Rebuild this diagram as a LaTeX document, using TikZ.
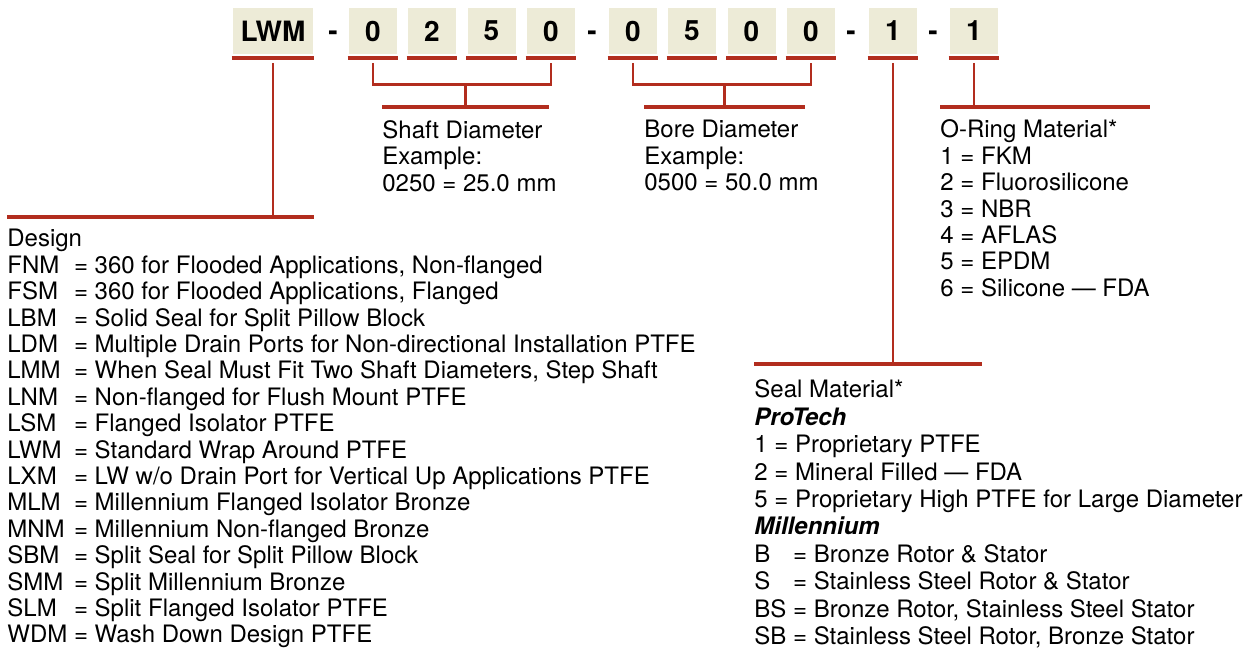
\documentclass[tikz,border=0pt]{standalone}
\usepackage{fontspec}
\setmainfont{TeX Gyre Heros}
\usepackage{calc}
\usetikzlibrary{calc}
\definecolor{codered}{RGB}{178,45,30}
\definecolor{codebg}{RGB}{237,235,215}
\newcommand{\dcode}[1]{\makebox[\widthof{WDM}][l]{#1}}
\newcommand{\mcode}[1]{\makebox[\widthof{BS}][l]{#1}}
\newcommand{\grp}[1]{\textbf{\textit{#1}}}

\begin{document}
\begin{tikzpicture}[x=0.5pt, y=-0.5pt,
      digit/.style={fill=codebg, minimum width=24pt, minimum height=23pt,
                    inner sep=0pt, font=\fontsize{14}{16}\selectfont\bfseries},
      sep/.style={inner sep=0pt, anchor=base,
                  font=\fontsize{14}{16}\selectfont\bfseries},
      uline/.style={draw=codered, line width=2pt},
      link/.style={draw=codered, line width=1.35pt},
      bar/.style={draw=codered, line width=2.2pt},
      txt/.style={anchor=north west, inner sep=0pt, align=left,
                  font=\fontsize{12}{13.2}\selectfont}]
    \useasboundingbox (0,0) rectangle (1254,650);

    % code boxes
    \node[digit, minimum width=40pt] (lwm) at (273,31) {LWM};
    \node[sep] (h1) at (333,40.7) {-};
    \node[digit] (s1) at (373,31)   {0};
    \node[digit] (s2) at (432,31)   {2};
    \node[digit] (s3) at (491.5,31) {5};
    \node[digit] (s4) at (551,31)   {0};
    \node[sep] (h2) at (592,40.7) {-};
    \node[digit] (b1) at (633,31)   {0};
    \node[digit] (b2) at (692,31)   {5};
    \node[digit] (b3) at (751.5,31) {0};
    \node[digit] (b4) at (811,31)   {0};
    \node[sep] (h3) at (851,40.7) {-};
    \node[digit] (seal) at (893,31) {1};
    \node[sep] (h4) at (933,40.7) {-};
    \node[digit] (oring) at (974,31) {1};

    \foreach \n in {lwm,s1,s2,s3,s4,b1,b2,b3,b4,seal,oring}
      \draw[uline] ([shift={(-1,3.5)}]\n.south west) -- ([shift={(1,3.5)}]\n.south east);

    % title bars
    \coordinate (designL) at (7,217);   \coordinate (designR) at (314,217);
    \coordinate (shaftL)  at (382,107); \coordinate (shaftR)  at (549,107);
    \coordinate (boreL)   at (644,107); \coordinate (boreR)   at (805,107);
    \coordinate (sealL)   at (754,364); \coordinate (sealR)   at (982,364);
    \coordinate (oringL)  at (940,107); \coordinate (oringR)  at (1150,107);
    \foreach \b in {design,shaft,bore,seal,oring}
      \draw[bar] (\b L) -- (\b R);

    % connectors
    \draw[link] ([shift={(0,8.5)}]lwm.south) -- (lwm.south |- designL);
    \draw[link] ([shift={(0,8.5)}]s1.south) -- ++(0,21.5) -| ([shift={(0,8.5)}]s4.south);
    \draw[link] ($(shaftL)!.5!(shaftR)$) -- ++(0,-23);
    \draw[link] ([shift={(0,8.5)}]b1.south) -- ++(0,21.5) -| ([shift={(0,8.5)}]b4.south);
    \draw[link] ($(boreL)!.5!(boreR)$) -- ++(0,-23);
    \draw[link] ([shift={(0,8.5)}]seal.south) -- (seal.south |- sealL);
    \draw[link] ([shift={(0,8.5)}]oring.south) -- (oring.south |- oringL);

    % legends
    \node[txt] (shafttxt) at ([shift={(0,13)}]shaftL)
      {Shaft Diameter\\Example:\\0250 = 25.0 mm};
    \node[txt] (boretxt) at ([shift={(0,13)}]boreL)
      {Bore Diameter\\Example:\\0500 = 50.0 mm};
    \node[txt] (oringtxt) at ([shift={(0,12.5)}]oringL)
      {O-Ring Material*\\1 = FKM\\2 = Fluorosilicone\\3 = NBR\\4 = AFLAS\\5 = EPDM\\6 = Silicone — FDA};
    \node[txt] (designtxt) at ([shift={(0,12)}]designL)
      {Design\\
       \dcode{FNM} = 360 for Flooded Applications, Non-flanged\\
       \dcode{FSM} = 360 for Flooded Applications, Flanged\\
       \dcode{LBM} = Solid Seal for Split Pillow Block\\
       \dcode{LDM} = Multiple Drain Ports for Non-directional Installation PTFE\\
       \dcode{LMM} = When Seal Must Fit Two Shaft Diameters, Step Shaft\\
       \dcode{LNM} = Non-flanged for Flush Mount PTFE\\
       \dcode{LSM} = Flanged Isolator PTFE\\
       \dcode{LWM} = Standard Wrap Around PTFE\\
       \dcode{LXM} = LW w/o Drain Port for Vertical Up Applications PTFE\\
       \dcode{MLM} = Millennium Flanged Isolator Bronze\\
       \dcode{MNM} = Millennium Non-flanged Bronze\\
       \dcode{SBM} = Split Seal for Split Pillow Block\\
       \dcode{SMM} = Split Millennium Bronze\\
       \dcode{SLM} = Split Flanged Isolator PTFE\\
       \dcode{WDM} = Wash Down Design PTFE};
    \node[txt, font=\fontsize{12}{13.7}\selectfont] (sealtxt) at ([shift={(0,15.5)}]sealL)
      {Seal Material*\\
       \grp{ProTech}\\
       1 = Proprietary PTFE\\
       2 = Mineral Filled — FDA\\
       5 = Proprietary High PTFE for Large Diameter\\
       \grp{Millennium}\\
       \mcode{B} = Bronze Rotor \& Stator\\
       \mcode{S} = Stainless Steel Rotor \& Stator\\
       \mcode{BS} = Bronze Rotor, Stainless Steel Stator\\
       \mcode{SB} = Stainless Steel Rotor, Bronze Stator};
  \end{tikzpicture}
\end{document}
